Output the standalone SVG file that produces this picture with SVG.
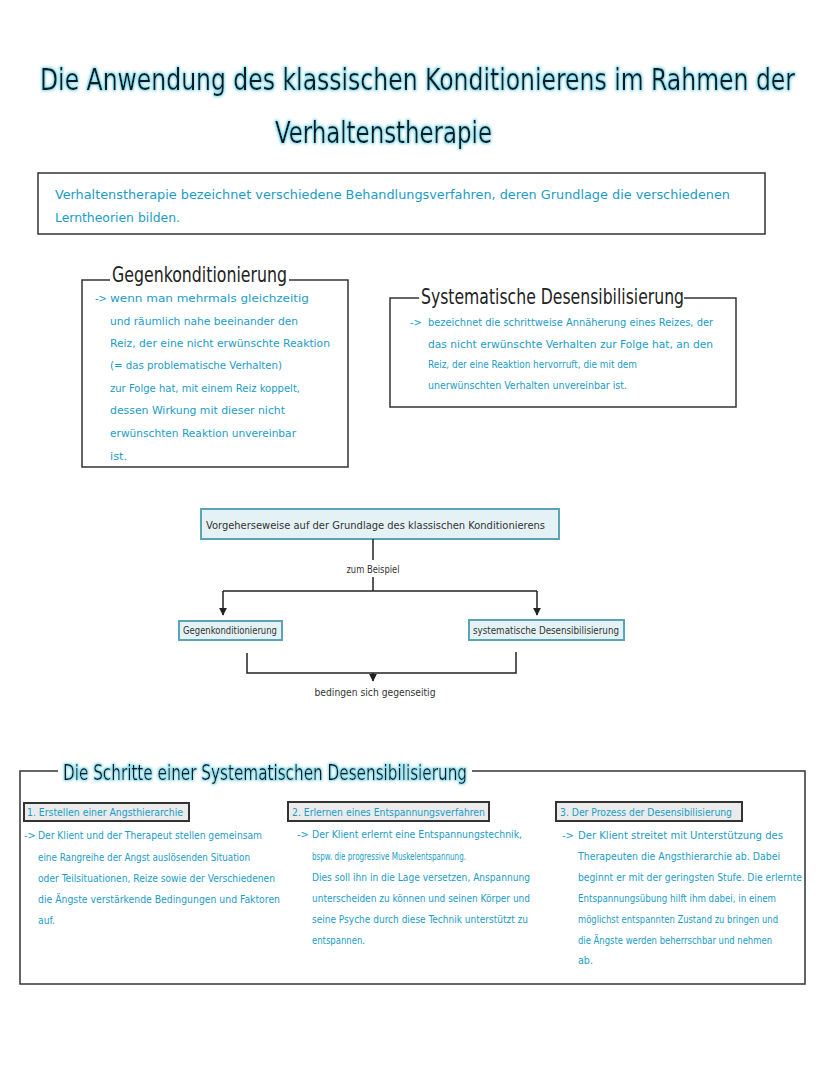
<svg xmlns="http://www.w3.org/2000/svg" width="828" height="1069" viewBox="0 0 828 1069">
<defs>
<filter id="glow" x="-3%" y="-40%" width="106%" height="180%">
<feMorphology in="SourceAlpha" operator="dilate" radius="1.1" result="d"/>
<feGaussianBlur in="d" stdDeviation="1.2" result="b"/>
<feFlood flood-color="#86dcec"/>
<feComposite in2="b" operator="in" result="g"/>
<feMerge><feMergeNode in="g"/><feMergeNode in="SourceGraphic"/></feMerge>
</filter>
<marker id="arr" viewBox="0 0 10 10" refX="9" refY="5" markerWidth="8" markerHeight="9" markerUnits="userSpaceOnUse" orient="auto">
<path d="M0,0 L10,5 L0,10 z" fill="#222"/>
</marker>
<style>
text{font-family:"DejaVu Sans Condensed","Liberation Sans",sans-serif}
.title{font-size:27px;fill:#0f1c26;filter:url(#glow)}
.head{font-size:22px;fill:#222}
.headg{font-size:22px;fill:#0f1c26;filter:url(#glow)}
.body{font-size:12.5px;fill:#1a9cc6}
.small{font-size:11px;fill:#1a9cc6}
.flow{font-size:11px;fill:#333}
.frame{fill:none;stroke:#333;stroke-width:1.5}
.fbox{fill:#e4f2f5;stroke:#5aa5b5;stroke-width:2}
.step{fill:#ebebeb;stroke:#333;stroke-width:2}
.con{fill:none;stroke:#222;stroke-width:1.5}
</style>
</defs>
<rect width="828" height="1069" fill="#fff"/>

<g id="title">
<text class="title" x="0" y="0" transform="translate(40,90) scale(1,1.12)" textLength="755" lengthAdjust="spacingAndGlyphs">Die Anwendung des klassischen Konditionierens im Rahmen der</text>
<text class="title" x="0" y="0" transform="translate(275,143) scale(1,1.12)" textLength="217" lengthAdjust="spacingAndGlyphs">Verhaltenstherapie</text>
</g>

<g id="intro">
<rect class="frame" x="38" y="173" width="727" height="61"/>
<text class="body" x="55" y="199" textLength="675" lengthAdjust="spacingAndGlyphs">Verhaltenstherapie bezeichnet verschiedene Behandlungsverfahren, deren Grundlage die verschiedenen</text>
<text class="body" x="55" y="222" textLength="125" lengthAdjust="spacingAndGlyphs">Lerntheorien bilden.</text>
</g>

<g id="gegenkonditionierung">
<path class="frame" d="M110,280 H82 V467 H348 V280 H289"/>
<text class="head" x="112" y="282" textLength="175" lengthAdjust="spacingAndGlyphs">Gegenkonditionierung</text>
<text class="small" x="95" y="302">-&gt;</text>
<text class="small" x="110" y="302" textLength="199" lengthAdjust="spacingAndGlyphs">wenn man mehrmals gleichzeitig</text>
<text class="small" x="110" y="325" textLength="188" lengthAdjust="spacingAndGlyphs">und räumlich nahe beeinander den</text>
<text class="small" x="110" y="347" textLength="220" lengthAdjust="spacingAndGlyphs">Reiz, der eine nicht erwünschte Reaktion</text>
<text class="small" x="110" y="369" textLength="172" lengthAdjust="spacingAndGlyphs">(= das problematische Verhalten)</text>
<text class="small" x="110" y="392" textLength="190" lengthAdjust="spacingAndGlyphs">zur Folge hat, mit einem Reiz koppelt,</text>
<text class="small" x="110" y="414" textLength="175" lengthAdjust="spacingAndGlyphs">dessen Wirkung mit dieser nicht</text>
<text class="small" x="110" y="437" textLength="186" lengthAdjust="spacingAndGlyphs">erwünschten Reaktion unvereinbar</text>
<text class="small" x="110" y="460" textLength="17" lengthAdjust="spacingAndGlyphs">ist.</text>
</g>

<g id="systematische-desensibilisierung">
<path class="frame" d="M419,298 H390 V407 H736 V298 H684"/>
<text class="head" x="421" y="304" textLength="263" lengthAdjust="spacingAndGlyphs">Systematische Desensibilisierung</text>
<text class="small" x="410" y="326">-&gt;</text>
<text class="small" x="428" y="326" textLength="285" lengthAdjust="spacingAndGlyphs">bezeichnet die schrittweise Annäherung eines Reizes, der</text>
<text class="small" x="428" y="348" textLength="285" lengthAdjust="spacingAndGlyphs">das nicht erwünschte Verhalten zur Folge hat, an den</text>
<text class="small" x="428" y="368" textLength="209" lengthAdjust="spacingAndGlyphs">Reiz, der eine Reaktion hervorruft, die mit dem</text>
<text class="small" x="428" y="389" textLength="199" lengthAdjust="spacingAndGlyphs">unerwünschten Verhalten unvereinbar ist.</text>
</g>

<g id="vorgehensweise">
<rect class="fbox" x="201" y="509" width="358" height="30"/>
<text class="flow" x="206" y="529" textLength="339" lengthAdjust="spacingAndGlyphs">Vorgeherseweise auf der Grundlage des klassischen Konditionierens</text>
</g>

<g id="node-gegenkonditionierung">
<rect class="fbox" x="179" y="621" width="103" height="19"/>
<text class="flow" x="183" y="634" textLength="94" lengthAdjust="spacingAndGlyphs">Gegenkonditionierung</text>
</g>

<g id="node-systematische">
<rect class="fbox" x="469" y="620" width="155" height="20"/>
<text class="flow" x="473" y="634" textLength="146" lengthAdjust="spacingAndGlyphs">systematische Desensibilisierung</text>
</g>

<g id="connectors">
<line class="con" x1="373" y1="539" x2="373" y2="560"/>
<text class="flow" x="373" y="573" text-anchor="middle" textLength="53" lengthAdjust="spacingAndGlyphs">zum Beispiel</text>
<line class="con" x1="373" y1="577" x2="373" y2="591"/>
<line class="con" x1="223" y1="591" x2="537" y2="591"/>
<line class="con" x1="223" y1="591" x2="223" y2="615" marker-end="url(#arr)"/>
<line class="con" x1="537" y1="591" x2="537" y2="615" marker-end="url(#arr)"/>
<path class="con" d="M247,653 V673 H516 V652"/>
<line class="con" x1="373" y1="673" x2="373" y2="681" marker-end="url(#arr)"/>
<text class="flow" x="375" y="696" text-anchor="middle" textLength="121" lengthAdjust="spacingAndGlyphs">bedingen sich gegenseitig</text>
</g>

<g id="schritte">
<path class="frame" d="M58,771 H20 V984 H805 V771 H472"/>
<text class="headg" x="63" y="780" textLength="404" lengthAdjust="spacingAndGlyphs">Die Schritte einer Systematischen Desensibilisierung</text>
</g>

<g id="schritt-1">
<rect class="step" x="24" y="803" width="165" height="18"/>
<text class="small" x="27" y="816" textLength="156" lengthAdjust="spacingAndGlyphs">1. Erstellen einer Angsthierarchie</text>
<text class="small" x="24" y="839">-&gt;</text>
<text class="small" x="38" y="839" textLength="224" lengthAdjust="spacingAndGlyphs">Der Klient und der Therapeut stellen gemeinsam</text>
<text class="small" x="38" y="861" textLength="212" lengthAdjust="spacingAndGlyphs">eine Rangreihe der Angst auslösenden Situation</text>
<text class="small" x="38" y="882" textLength="237" lengthAdjust="spacingAndGlyphs">oder Teilsituationen, Reize sowie der Verschiedenen</text>
<text class="small" x="38" y="903" textLength="242" lengthAdjust="spacingAndGlyphs">die Ängste verstärkende Bedingungen und Faktoren</text>
<text class="small" x="38" y="924" textLength="17" lengthAdjust="spacingAndGlyphs">auf.</text>
</g>

<g id="schritt-2">
<rect class="step" x="288" y="802" width="201" height="19"/>
<text class="small" x="292" y="816" textLength="193" lengthAdjust="spacingAndGlyphs">2. Erlernen eines Entspannungsverfahren</text>
<text class="small" x="297" y="838">-&gt;</text>
<text class="small" x="312" y="838" textLength="210" lengthAdjust="spacingAndGlyphs">Der Klient erlernt eine Entspannungstechnik,</text>
<text class="small" x="312" y="860" textLength="154" lengthAdjust="spacingAndGlyphs">bspw. die progressive Muskelentspannung.</text>
<text class="small" x="312" y="881" textLength="218" lengthAdjust="spacingAndGlyphs">Dies soll ihn in die Lage versetzen, Anspannung</text>
<text class="small" x="312" y="902" textLength="218" lengthAdjust="spacingAndGlyphs">unterscheiden zu können und seinen Körper und</text>
<text class="small" x="312" y="923" textLength="216" lengthAdjust="spacingAndGlyphs">seine Psyche durch diese Technik unterstützt zu</text>
<text class="small" x="312" y="944" textLength="53" lengthAdjust="spacingAndGlyphs">entspannen.</text>
</g>

<g id="schritt-3">
<rect class="step" x="556" y="802" width="186" height="19"/>
<text class="small" x="560" y="816" textLength="172" lengthAdjust="spacingAndGlyphs">3. Der Prozess der Desensibilisierung</text>
<text class="small" x="562" y="839">-&gt;</text>
<text class="small" x="578" y="839" textLength="205" lengthAdjust="spacingAndGlyphs">Der Klient streitet mit Unterstützung des</text>
<text class="small" x="578" y="860" textLength="202" lengthAdjust="spacingAndGlyphs">Therapeuten die Angsthierarchie ab. Dabei</text>
<text class="small" x="578" y="881" textLength="224" lengthAdjust="spacingAndGlyphs">beginnt er mit der geringsten Stufe. Die erlernte</text>
<text class="small" x="578" y="902" textLength="198" lengthAdjust="spacingAndGlyphs">Entspannungsübung hilft ihm dabei, in einem</text>
<text class="small" x="578" y="923" textLength="200" lengthAdjust="spacingAndGlyphs">möglichst entspannten Zustand zu bringen und</text>
<text class="small" x="578" y="944" textLength="194" lengthAdjust="spacingAndGlyphs">die Ängste werden beherrschbar und nehmen</text>
<text class="small" x="578" y="964" textLength="15" lengthAdjust="spacingAndGlyphs">ab.</text>
</g>
</svg>
